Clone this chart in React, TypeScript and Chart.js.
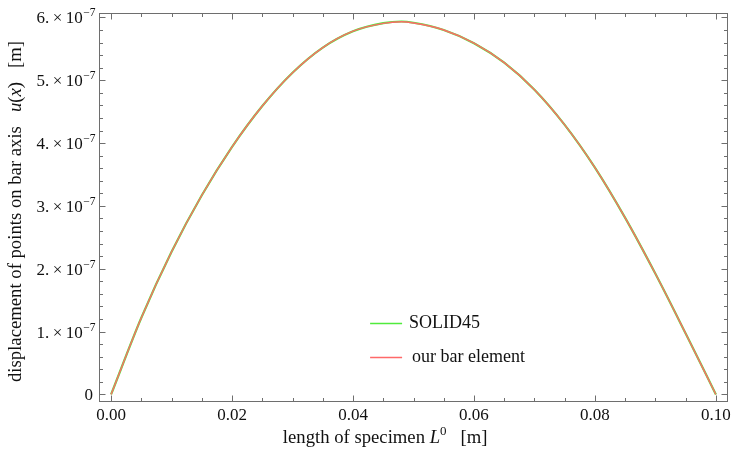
import React, { useEffect, useRef } from "react";
import { Chart, registerables } from "chart.js";

Chart.register(...registerables);

// length coordinate along the specimen [m]
const xPositions = [0, 0.005, 0.01, 0.015, 0.02, 0.025, 0.03, 0.035, 0.04, 0.045, 0.048, 0.05, 0.055, 0.06, 0.065, 0.07, 0.075, 0.08, 0.085, 0.09, 0.095, 0.1];
// displacement u(x) [m]
const solid45 = [0, 1.22e-7, 2.27e-7, 3.17e-7, 3.94e-7, 4.59e-7, 5.12e-7, 5.52e-7, 5.78e-7, 5.91e-7, 5.935e-7, 5.915e-7, 5.8e-7, 5.59e-7, 5.28e-7, 4.85e-7, 4.29e-7, 3.61e-7, 2.81e-7, 1.92e-7, 0.97e-7, 0];
const barElement = [0, 1.22e-7, 2.27e-7, 3.17e-7, 3.94e-7, 4.59e-7, 5.12e-7, 5.52e-7, 5.78e-7, 5.905e-7, 5.93e-7, 5.91e-7, 5.8e-7, 5.59e-7, 5.28e-7, 4.85e-7, 4.29e-7, 3.61e-7, 2.81e-7, 1.92e-7, 0.97e-7, 0];

const seriesNames = ["SOLID45", "our bar element"];
const seriesColors = ["rgb(80,235,60)", "rgb(255,105,105)"];

const xTickValues = [0, 0.02, 0.04, 0.06, 0.08, 0.1];
const xTickLabels = ["0.00", "0.02", "0.04", "0.06", "0.08", "0.10"];
const xMinorStep = 0.005;
const yTickValues = [0, 1e-7, 2e-7, 3e-7, 4e-7, 5e-7, 6e-7];
const yTickMantissas = ["0", "1.", "2.", "3.", "4.", "5.", "6."];
const yTickExponent = "\u22127";
const yMinorStep = 0.2e-7;

const FONT = "'Liberation Serif', 'DejaVu Serif', serif";

const framePlugin = {
  id: "mmaFrame",
  afterDatasetsDraw(chart: any) {
    const ctx = chart.ctx as CanvasRenderingContext2D;
    const { left, right, top, bottom } = chart.chartArea;
    const xs = chart.scales.x;
    const ys = chart.scales.y;
    ctx.save();
    // frame
    ctx.strokeStyle = "#6e6e6e";
    ctx.lineWidth = 1;
    ctx.strokeRect(Math.round(left) + 0.5, Math.round(top) + 0.5, Math.round(right - left) - 1, Math.round(bottom - top) - 1);
    const L = Math.round(left) + 0.5, R = Math.round(right) - 0.5, T = Math.round(top) + 0.5, B = Math.round(bottom) - 0.5;
    ctx.beginPath();
    for (let v = 0; v <= 0.1 + 1e-9; v += xMinorStep) {
      const major = xTickValues.some((t) => Math.abs(t - v) < 1e-9);
      const len = major ? 6 : 3.5;
      const px = Math.round(xs.getPixelForValue(v)) + 0.5;
      ctx.moveTo(px, B); ctx.lineTo(px, B - len);
      ctx.moveTo(px, T); ctx.lineTo(px, T + len);
    }
    for (let v = 0; v <= 6e-7 + 1e-12; v += yMinorStep) {
      const major = yTickValues.some((t) => Math.abs(t - v) < 1e-12);
      const len = major ? 6 : 3.5;
      const py = Math.round(ys.getPixelForValue(v)) + 0.5;
      ctx.moveTo(L, py); ctx.lineTo(L + len, py);
      ctx.moveTo(R, py); ctx.lineTo(R - len, py);
    }
    ctx.stroke();

    ctx.fillStyle = "#111";
    ctx.font = `17px ${FONT}`;
    ctx.textAlign = "center";
    ctx.textBaseline = "alphabetic";
    xTickValues.forEach((v, i) => {
      ctx.fillText(xTickLabels[i], xs.getPixelForValue(v), bottom + 18);
    });
    yTickValues.forEach((v, i) => {
      const py = ys.getPixelForValue(v);
      const rx = left - 4;
      ctx.textAlign = "left";
      if (v === 0) {
        ctx.font = `17px ${FONT}`;
        const w = ctx.measureText("0").width;
        ctx.fillText("0", rx - w - 2, py + 6);
        return;
      }
      const main = yTickMantissas[i] + "\u2009\u00d7\u200910";
      ctx.font = `11.5px ${FONT}`;
      const ws = ctx.measureText(yTickExponent).width;
      ctx.font = `17px ${FONT}`;
      const wm = ctx.measureText(main).width;
      const x0 = rx - ws - wm;
      ctx.fillText(main, x0, py + 6);
      ctx.font = `11.5px ${FONT}`;
      ctx.fillText(yTickExponent, x0 + wm + 0.5, py - 1);
    });

    const drawRuns = (runs: { t: string; f: string; dy?: number }[], cx: number, cy: number) => {
      let total = 0;
      runs.forEach((r) => { ctx.font = r.f; total += ctx.measureText(r.t).width; });
      let x = cx - total / 2;
      ctx.textAlign = "left";
      runs.forEach((r) => {
        ctx.font = r.f;
        ctx.fillText(r.t, x, cy + (r.dy || 0));
        x += ctx.measureText(r.t).width;
      });
    };
    const TF = 18.7;
    drawRuns([
      { t: "length of specimen ", f: `${TF}px ${FONT}` },
      { t: "L", f: `italic ${TF}px ${FONT}` },
      { t: "0", f: `13px ${FONT}`, dy: -8 },
      { t: "\u2002 [m]", f: `${TF}px ${FONT}` },
    ], left + (right - left) * 0.455, 443);

    ctx.save();
    ctx.translate(21, (top + bottom) / 2 + 4);
    ctx.rotate(-Math.PI / 2);
    drawRuns([
      { t: "displacement of points on bar axis\u2002 ", f: `${TF}px ${FONT}` },
      { t: "u", f: `italic ${TF}px ${FONT}` },
      { t: "(", f: `${TF}px ${FONT}` },
      { t: "x", f: `italic ${TF}px ${FONT}` },
      { t: ")\u2002 [m]", f: `${TF}px ${FONT}` },
    ], 0, 0);
    ctx.restore();

    // legend
    const lx0 = left + (right - left) * 0.431;
    const lx1 = lx0 + 32;
    const rows = [top + (bottom - top) * 0.798, top + (bottom - top) * 0.885];
    seriesNames.forEach((name, i) => {
      ctx.strokeStyle = seriesColors[i];
      ctx.lineWidth = 1.4;
      ctx.beginPath();
      ctx.moveTo(lx0, Math.round(rows[i]) + 0.5);
      ctx.lineTo(lx1, Math.round(rows[i]) + 0.5);
      ctx.stroke();
      ctx.font = `18px ${FONT}`;
      ctx.textAlign = "left";
      ctx.fillStyle = "#111";
      ctx.fillText(name, lx1 + 7 + i * 3, rows[i] + 5);
    });
    ctx.restore();
  },
};

export default function App() {
  const ref = useRef<HTMLCanvasElement | null>(null);
  useEffect(() => {
    if (!ref.current) return;
    const chart = new Chart(ref.current, {
      type: "line",
      data: {
        datasets: [
          {
            label: seriesNames[0],
            data: xPositions.map((x, i) => ({ x, y: solid45[i] })),
            borderColor: seriesColors[0],
            borderWidth: 2.2,
            pointRadius: 0,
            cubicInterpolationMode: "monotone",
            order: 2,
          },
          {
            label: seriesNames[1],
            data: xPositions.map((x, i) => ({ x, y: barElement[i] })),
            borderColor: seriesColors[1],
            borderWidth: 1.4,
            pointRadius: 0,
            cubicInterpolationMode: "monotone",
            order: 1,
          },
        ],
      },
      options: {
        animation: false,
        responsive: false,
        maintainAspectRatio: false,
        layout: { padding: { top: 13, right: 5, left: 0, bottom: 0 } },
        plugins: { legend: { display: false }, tooltip: { enabled: false } },
        scales: {
          x: {
            type: "linear",
            min: -0.002,
            max: 0.102,
            grid: { display: false },
            border: { display: false },
            ticks: { display: false },
            afterFit: (s: any) => { s.height = 53; },
          },
          y: {
            type: "linear",
            min: -0.12e-7,
            max: 6.07e-7,
            grid: { display: false },
            border: { display: false },
            ticks: { display: false },
            afterFit: (s: any) => { s.width = 99; },
          },
        },
      } as any,
      plugins: [framePlugin],
    });
    return () => chart.destroy();
  }, []);
  return (
    <div style={{ position: "absolute", left: 0, top: 0, width: 733, height: 455, background: "#fff" }}>
      <canvas ref={ref} width={733} height={455} style={{ width: 733, height: 455 }} />
    </div>
  );
}
